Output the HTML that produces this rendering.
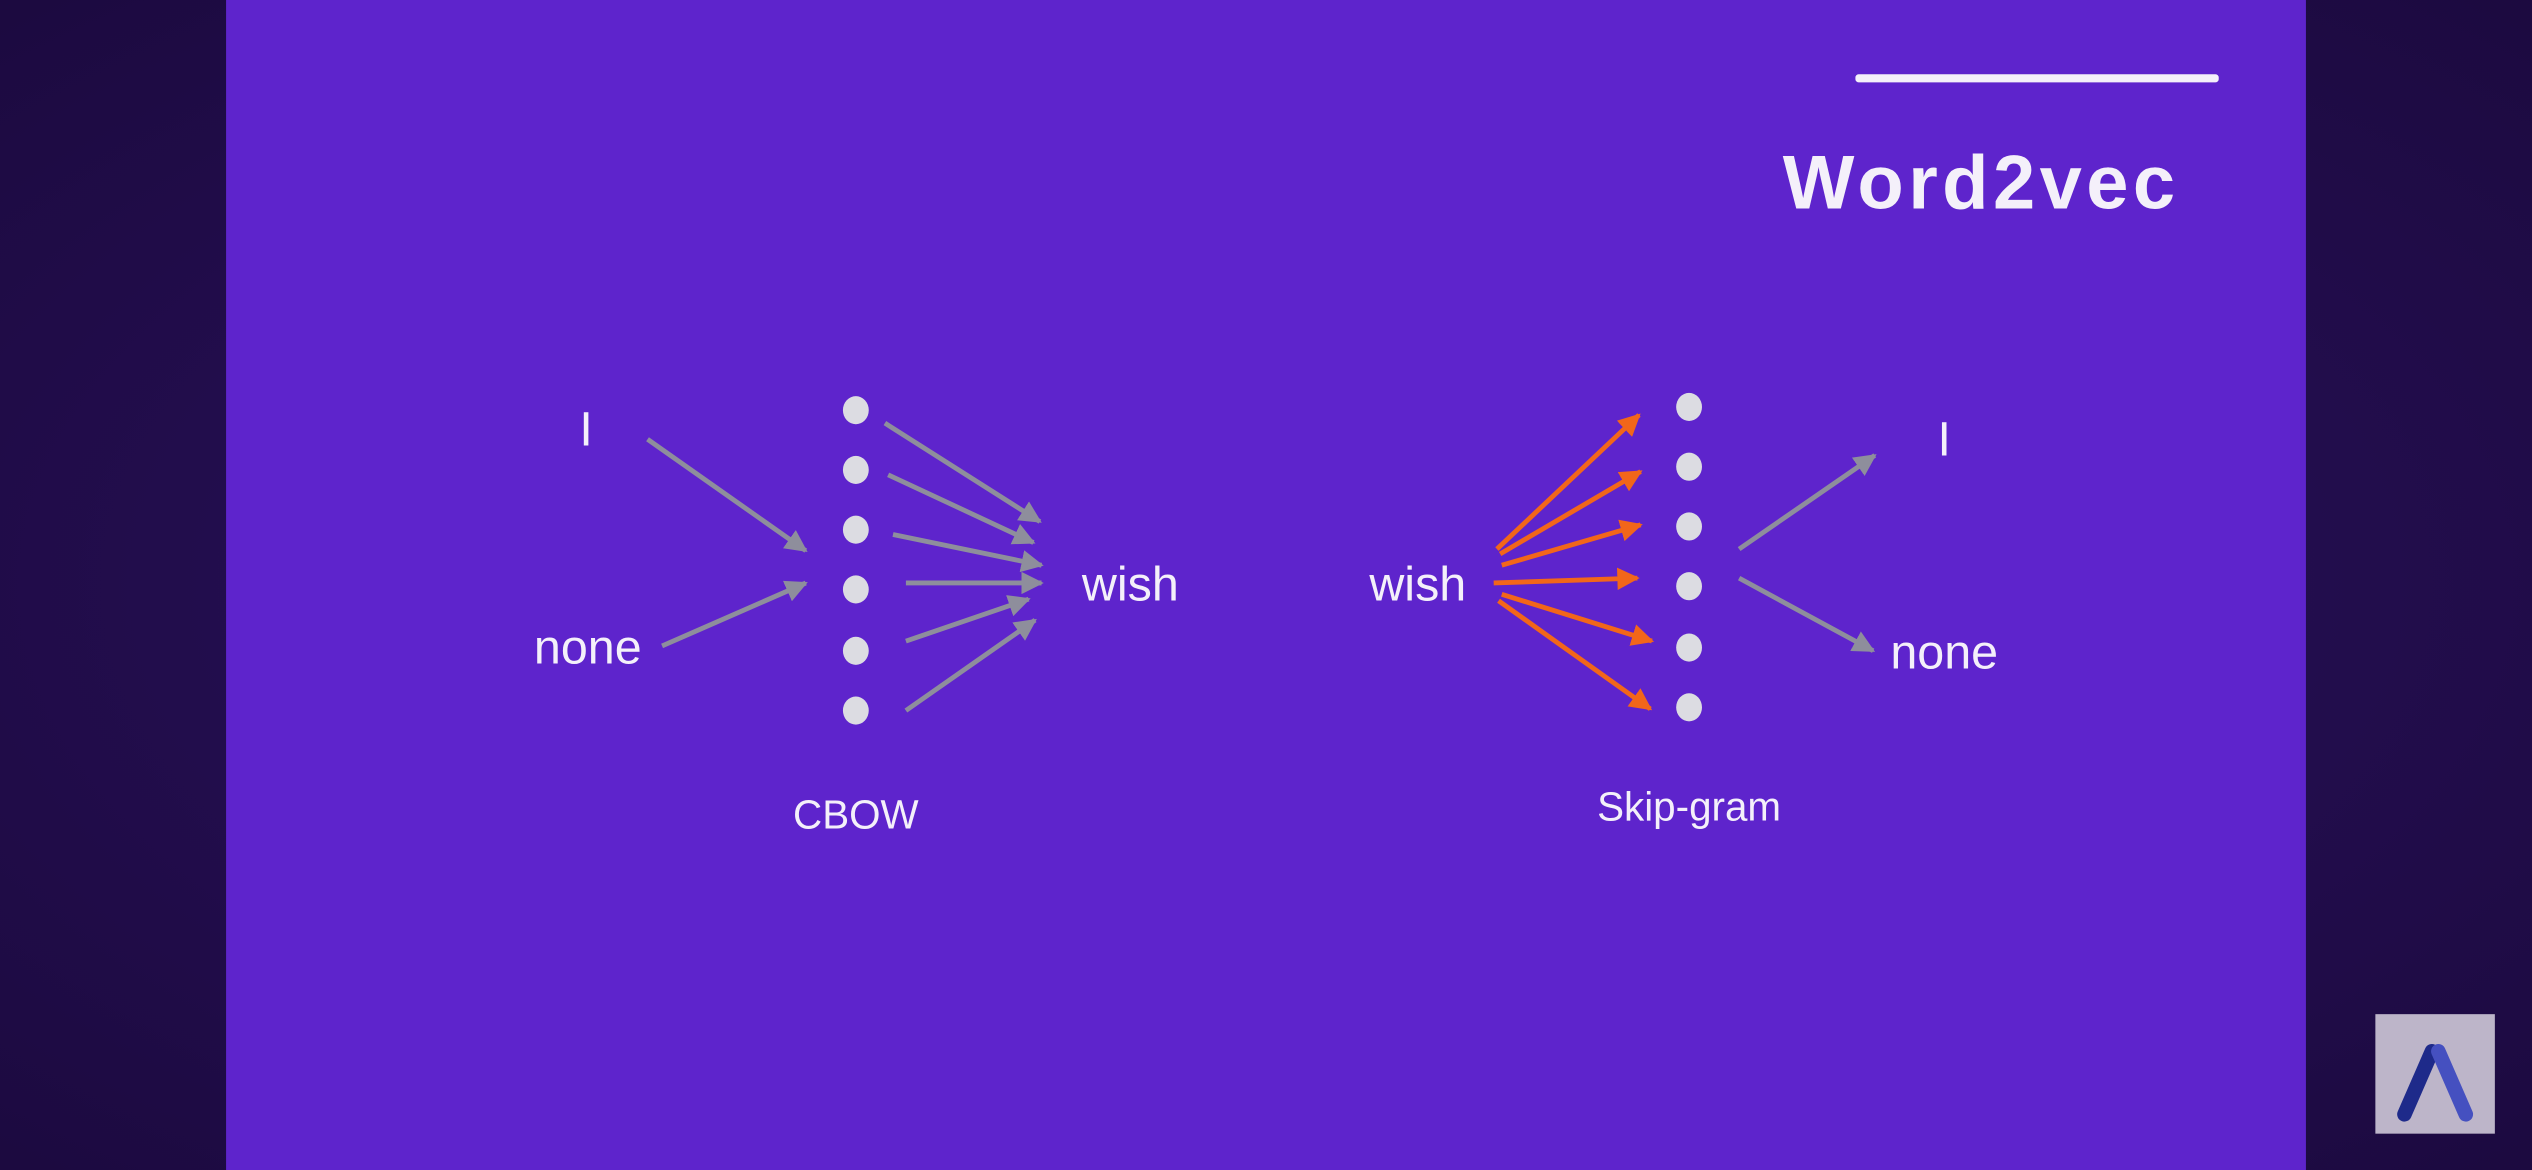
<!DOCTYPE html>
<html><head><meta charset="utf-8"><style>
html,body{margin:0;padding:0;width:2532px;height:1170px;overflow:hidden;background:#1f0b45;}
svg{display:block}
text{font-family:"Liberation Sans","DejaVu Sans",sans-serif;fill:#f4f0fa}
</style></head><body>
<svg id="s" width="2532" height="1170" viewBox="0 0 1568 724.5" preserveAspectRatio="none">
<defs>
<radialGradient id="bg" cx="50%" cy="50%" r="70%"><stop offset="0" stop-color="#2c1260"/><stop offset="1" stop-color="#1c0a40"/></radialGradient>
<marker id="ag" viewBox="0 0 10 10" refX="9" refY="5" markerWidth="4.6" markerHeight="4.6" orient="auto" markerUnits="strokeWidth"><path d="M0,0L10,5L0,10z" fill="#8e8e9c"/></marker>
<marker id="ao" viewBox="0 0 10 10" refX="9" refY="5" markerWidth="4.6" markerHeight="4.6" orient="auto" markerUnits="strokeWidth"><path d="M0,0L10,5L0,10z" fill="#f2661a"/></marker>
</defs>
<rect x="0" y="0" width="1568" height="725" fill="url(#bg)"/>
<rect x="140" y="0" width="1288" height="725" fill="#5e24cc"/>
<rect x="1149" y="46" width="225" height="5" rx="2" fill="#f4f0fa"/>
<text x="1104" y="129" font-size="47" font-weight="bold" fill="#e9e2f4" textLength="243" lengthAdjust="spacing">Word2vec</text>
<g id="diagram"></g>
<text x="363" y="276" font-size="30" text-anchor="middle">I</text>
<text x="364" y="411" font-size="30" text-anchor="middle">none</text>
<text x="700" y="372" font-size="30" text-anchor="middle">wish</text>
<text x="530" y="513" font-size="25" text-anchor="middle">CBOW</text>
<text x="878" y="372" font-size="30" text-anchor="middle">wish</text>
<text x="1204" y="282" font-size="30" text-anchor="middle">I</text>
<text x="1204" y="414" font-size="30" text-anchor="middle">none</text>
<text x="1046" y="508" font-size="25" text-anchor="middle">Skip-gram</text>
<g>
<rect x="1471" y="628" width="74" height="74" fill="#bdb5c9"/>
<path d="M1489,690 L1506,651" stroke="#1e2a8a" stroke-width="9" stroke-linecap="round" fill="none"/>
<path d="M1510,651 L1527,690" stroke="#4550c0" stroke-width="9" stroke-linecap="round" fill="none"/>
</g>
</svg>
<script>
const cbowNodeY=[254,291,328,365,403,440];
const skipNodeY=[252,289,326,363,401,438];
const cbowInArrows=[[401,272,499,341],[410,400,499,361]];
const cbowOutArrows=[[548,262,644,323],[550,294,640,336],[553,331,645,350],[561,361,645,361],[561,397,637,371],[561,440,641,384]];
const skipInArrows=[[927,340,1015,257],[929,343,1016,292],[930,350,1016,325],[925,361,1014,358],[930,368,1023,397],[928,372,1022,439]];
const skipOutArrows=[[1077,340,1161,282],[1077,358,1160,403]];
const NS='http://www.w3.org/2000/svg';
const g=document.getElementById('diagram');
function line(a,color,mk,name){
 const l=document.createElementNS(NS,'line');
 l.setAttribute('x1',a[0]);l.setAttribute('y1',a[1]);l.setAttribute('x2',a[2]);l.setAttribute('y2',a[3]);
 l.setAttribute('stroke',color);l.setAttribute('stroke-width','3');l.setAttribute('marker-end','url(#'+mk+')');
 
 
 g.appendChild(l);
}
function node(x,y,name){
 const c=document.createElementNS(NS,'ellipse');
 c.setAttribute('cx',x);c.setAttribute('cy',y);c.setAttribute('rx','8');c.setAttribute('ry','8.7');c.setAttribute('fill','#dcdce2');
 
 
 g.appendChild(c);
}
cbowInArrows.forEach(a=>line(a,'#8e8e9c','ag','cbow-input-arrow'));
cbowOutArrows.forEach(a=>line(a,'#8e8e9c','ag','cbow-output-arrow'));
skipInArrows.forEach(a=>line(a,'#f2661a','ao','skipgram-input-arrow'));
skipOutArrows.forEach(a=>line(a,'#8e8e9c','ag','skipgram-output-arrow'));
cbowNodeY.forEach(y=>node(530,y,'cbow-hidden-node'));
skipNodeY.forEach(y=>node(1046,y,'skipgram-hidden-node'));
</script>
</body></html>
